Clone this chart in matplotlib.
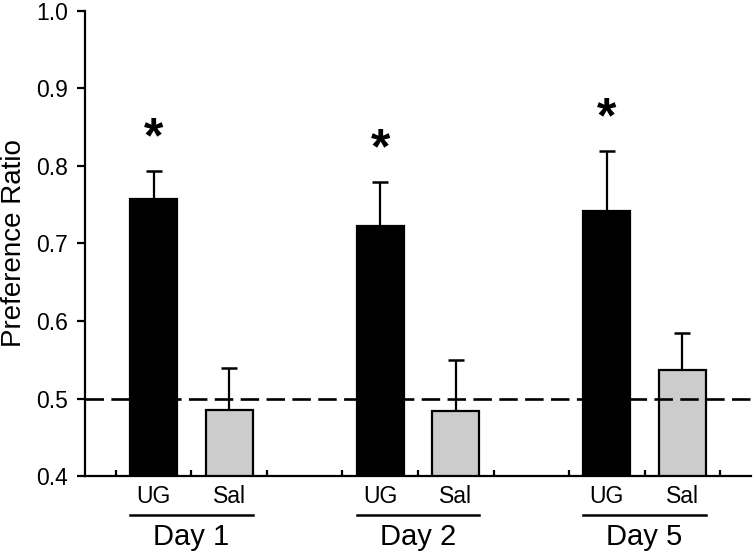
import numpy as np
import matplotlib
matplotlib.use('Agg')
import matplotlib.pyplot as plt

plt.rcParams['font.family'] = ['Liberation Sans', 'DejaVu Sans']

# data
groups = ['UG', 'Sal', 'UG', 'Sal', 'UG', 'Sal']
days = ['Day 1', 'Day 2', 'Day 5']
means = [0.758, 0.485, 0.723, 0.484, 0.742, 0.537]
sem = [0.035, 0.054, 0.056, 0.066, 0.077, 0.047]
signif = [True, False, True, False, True, False]
colors = ['black', '#cccccc', 'black', '#cccccc', 'black', '#cccccc']

xpos = np.array([1, 2, 4, 5, 7, 8])
width = 0.62

fig = plt.figure(figsize=(7.56, 5.57), dpi=100)
ax = fig.add_axes([0.1124, 0.1454, 0.881, 0.8349])

ax.bar(xpos, means, width=width, color=colors, edgecolor='black', linewidth=1.6, zorder=2)
ax.errorbar(xpos, means, yerr=[np.zeros(len(sem)), sem], fmt='none', ecolor='black',
            elinewidth=1.6, capsize=5.8, capthick=1.8, zorder=1)

# chance level
ax.axhline(0.5, color='black', linewidth=1.9, dashes=(7, 2.8), zorder=3)

# significance stars
for x, m, e, s in zip(xpos, means, sem, signif):
    if s:
        ax.text(x, m + e + 0.025, '*', ha='center', va='baseline', fontsize=36,
                fontweight='bold')

ax.set_xlim(0.09, 8.91)
ax.set_ylim(0.4, 1.0)
ax.set_yticks([0.4, 0.5, 0.6, 0.7, 0.8, 0.9, 1.0])
ax.set_yticklabels(['0.4', '0.5', '0.6', '0.7', '0.8', '0.9', '1.0'])
ax.tick_params(axis='y', direction='out', length=6, width=1.6, labelsize=16.5, pad=6)
ax.set_xticks(np.arange(0.5, 9, 1.0))
ax.set_xticklabels([])
ax.tick_params(axis='x', direction='in', length=4, width=1.6)

for side in ['top', 'right']:
    ax.spines[side].set_visible(False)
for side in ['left', 'bottom']:
    ax.spines[side].set_linewidth(1.6)

ax.set_ylabel('Preference Ratio', fontsize=20, labelpad=7)

# group labels under the axis
for x, g in zip(xpos, groups):
    ax.text(x, 0.373, g, ha='center', va='center', fontsize=16.5, clip_on=False)

for i, d in enumerate(days):
    x0 = xpos[2 * i] - width / 2
    x1 = xpos[2 * i + 1] + width / 2
    ax.plot([x0, x1], [0.350, 0.350], color='black', linewidth=1.8, clip_on=False)
    ax.text((x0 + x1) / 2, 0.321, d, ha='center', va='center', fontsize=21, clip_on=False)

fig.savefig('out.png', dpi=100)
